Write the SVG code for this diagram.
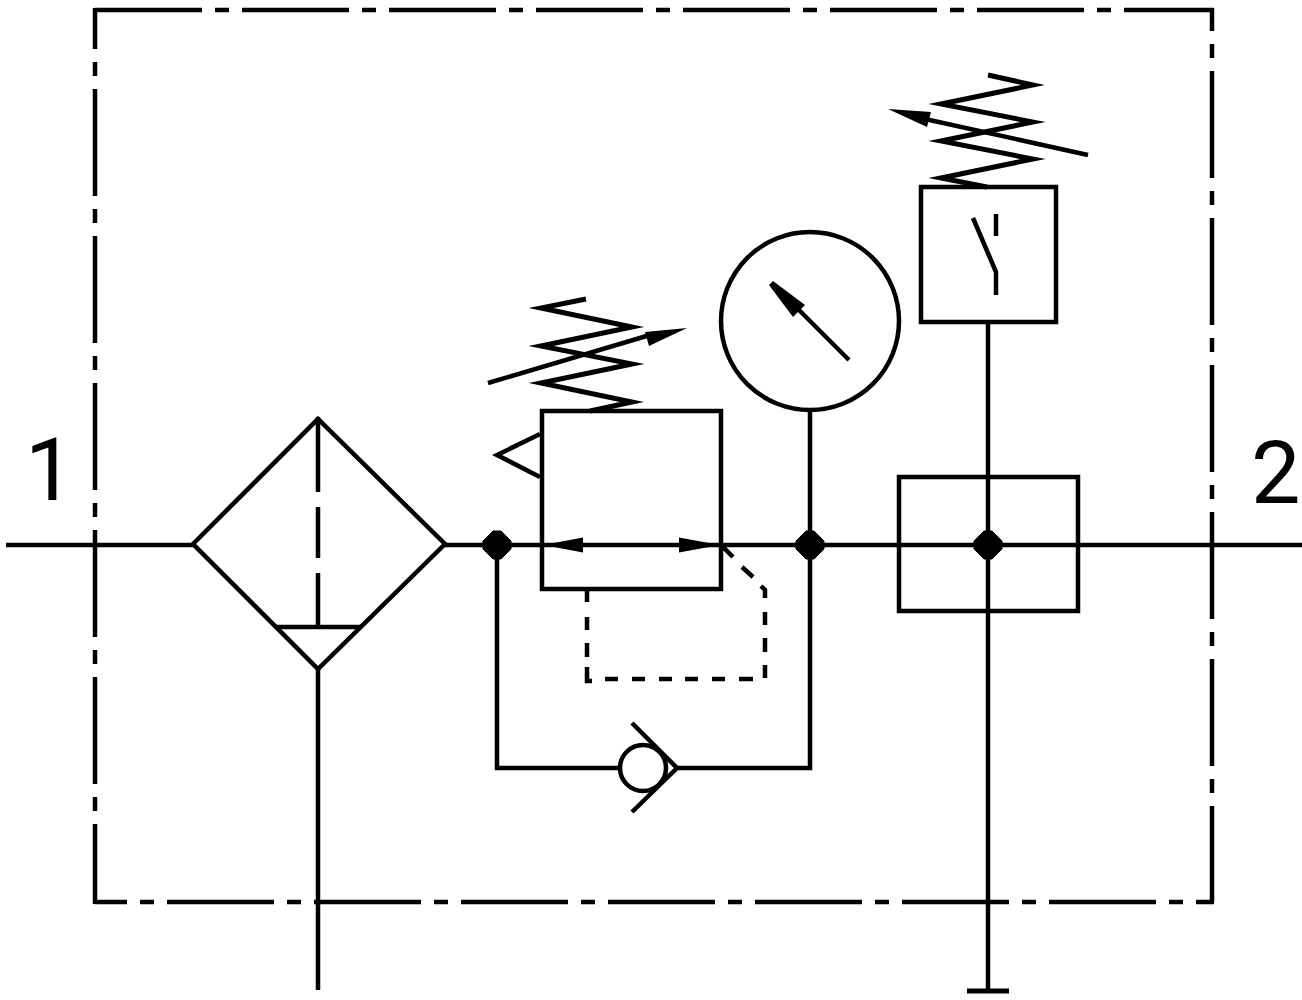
<svg xmlns="http://www.w3.org/2000/svg" width="1302" height="1000" viewBox="0 0 1302 1000">
<defs><polygon id="dot" points="-4,-14 4,-14 14,-4 14,4 4,14 -4,14 -14,4 -14,-4" fill="#000" stroke="#000" stroke-width="1" stroke-linejoin="round"/></defs>
<style>
.l{fill:none;stroke:#000;stroke-width:4.500;stroke-linejoin:miter;stroke-miterlimit:14}
.s{fill:none;stroke:#000;stroke-width:5;stroke-linejoin:miter;stroke-miterlimit:14}
.h{fill:#000;stroke:none}
.d{fill:none;stroke:#000;stroke-width:4.500}
.b{fill:none;stroke:#000;stroke-width:4.500;stroke-dasharray:107 13 14 13}
.t{font-family:Roboto,"Liberation Sans",Arial,sans-serif;font-size:88px;fill:#000}
</style>
<rect width="1302" height="1000" fill="#fff"/>
<g id="boundary">
<path class="b" d="M95 10H1214"/>
<path class="b" stroke-dashoffset="68" d="M95 8V904" style="stroke-dashoffset:66"/>
<path class="b" style="stroke-dashoffset:84" d="M1212 8V902"/>
<path class="b" style="stroke-dashoffset:75" d="M95 902H1214"/>
</g>
<g id="connectors">
<path class="l" d="M6 545H193M445 545H1302"/>
<path class="l" d="M318 669V990"/>
<path class="l" d="M497 545V768H620M677 768H810V410"/>
<path class="l" d="M988 322V990"/>
<path class="s" d="M967 991H1009"/>
<path class="d" d="M587 590V602M587 617V630M587 643V657M587 667V681H592M605 679H618M632 679H645M659 679H672M685 679H698M712 679H725M739 679H753M765 678V665M765 652V638M765 625V612M765 598V590L761 586M753 577L742 567M733 557L723 547"/>
</g>
<g id="filter">
<path class="l" d="M193 544L318 419L445 544L318 669Z"/>
<path class="l" d="M277 627H362M318 417V492M318 507V558M318 573V627"/>
</g>
<g id="regulator">
<rect class="l" x="542" y="411" width="179" height="178"/>
<path class="l" d="M540 434L497 455L540 477"/>
<path class="s" d="M586 299L541 308L632 327L541 346L632 364L541 383L632 402L590 411"/>
<path class="l" d="M488 383L650 335"/>
<path class="h" d="M687 328L645 332L649 346Z"/>
<path class="h" d="M543 545L583 537.500V552.500ZM720 545L679 537.500V552.500Z"/>
</g>
<g id="gauge">
<circle class="l" cx="810" cy="321" r="89"/>
<path class="l" d="M849 360L795 306"/>
<path class="h" d="M773 281L805 305L793 317L769 285Z"/>
</g>
<g id="switch">
<rect class="l" x="921" y="187" width="135" height="135"/>
<path class="s" d="M988 75L1033 85L941 104L1033 122L941 141L1033 159L941 178L987 187"/>
<path class="l" d="M1088 155L925 119"/>
<path class="h" d="M888 109L931 112L927 127Z"/>
<path class="l" d="M973 218L996 272V295M996 214V236"/>
</g>
<g id="sensor"><rect class="l" x="899" y="477" width="179" height="134"/></g>
<g id="check-valve">
<circle class="l" cx="643" cy="768" r="23"/>
<path class="l" d="M632 723L677 768L632 812"/>
</g>
<g id="junctions">
<use href="#dot" x="497" y="545"/>
<use href="#dot" x="810" y="545"/>
<use href="#dot" x="988" y="545"/>
</g>
<g id="labels">
<text class="t" x="25" y="500">1</text>
<text class="t" x="1251" y="503">2</text>
</g>
</svg>
